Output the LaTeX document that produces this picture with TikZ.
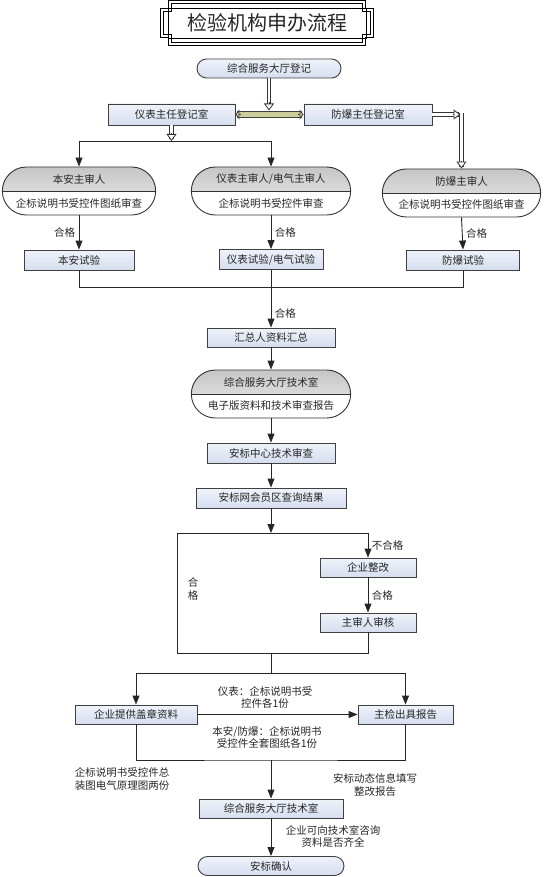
\documentclass[tikz,border=0pt]{standalone}
\usepackage{fontspec}
\setmainfont{Noto Sans CJK SC}
\usetikzlibrary{arrows.meta,shapes.misc,calc}

\definecolor{caixa}{RGB}{214,222,238}
\definecolor{caixaclara}{RGB}{238,242,250}
\definecolor{caqui}{RGB}{205,205,155}

\tikzset{
  caixa/.style={draw=black!75, line width=0.9pt, top color=caixaclara, bottom color=caixa, minimum height=20pt, inner sep=0pt},
  pilula/.style={caixa, rounded rectangle},
  dupla/.style={rounded rectangle, draw=black!80, line width=0.9pt, minimum height=48pt,
    path picture={
      \fill[top color=gray!45, bottom color=gray!12] (path picture bounding box.north west) rectangle (path picture bounding box.east);
      \draw[black!80, line width=0.8pt] (path picture bounding box.west) -- (path picture bounding box.east);
    }},
  linha/.style={draw=black!85, line width=0.9pt},
  seta/.style={linha, -{Triangle[length=9pt,width=7pt]}},
  oca/.style={draw=black!80, line width=0.8pt, double=white, double distance=2.6pt, shorten >=2pt},
  pontaoca/.style={draw=black!80, line width=0.8pt, -{Triangle[length=7pt,width=10pt,fill=white]}},
  barra/.style={draw=black!75, line width=0.8pt, double=caqui, double distance=4.5pt, shorten >=2pt, shorten <=2pt},
  pontabarra/.style={draw=black!75, line width=0.8pt, -{Triangle[length=4pt,width=10pt,fill=caqui]}},
}

% seta oca: haste dupla e ponta branca
\newcommand{\setaoca}[2]{%
  \draw[oca] (#1) -- (#2);
  \draw[pontaoca] ($(#2)!8pt!(#1)$) -- (#2);}

\begin{document}
\begin{tikzpicture}[x=1pt, y=-1pt, font=\fontsize{10.5}{12.5}\selectfont, text=black!85]

        \useasboundingbox (0,0) rectangle (549,877);

        % titulo
        \draw[line width=1pt, double, double distance=1.2pt] (170,2) -- (364,2) -- (364,10) -- (372,10) -- (372,36) -- (364,36) -- (364,44) -- (170,44) -- (170,36) -- (162,36) -- (162,10) -- (170,10) -- cycle;
        \draw[line width=0.7pt] (168,8) rectangle (366,38);
        \node[font=\fontsize{20}{24}\selectfont] (titulo) at (267,23) {检验机构申办流程};

        % registro
        \node[pilula, minimum width=144pt, minimum height=19pt] (reg) at (269,68.5) {综合服务大厅登记};
        \node[caixa, minimum width=127pt, minimum height=21pt] (yb) at (171.5,114.5) {仪表主任登记室};
        \node[caixa, minimum width=128pt, minimum height=21pt] (fb) at (368,114.5) {防爆主任登记室};

        % primeiros exames
        \node[dupla, minimum width=160pt] (bz) at (79,191) {};
        \node (bzt) at ([yshift=12pt]bz.center) {本安主审人};
        \node (bzb) at ([yshift=-12pt]bz.center) {企标说明书受控件图纸审查};
        \node[dupla, minimum width=166pt] (yz) at (271,191) {};
        \node (yzt) at ([yshift=12pt]yz.center) {仪表主审人/电气主审人};
        \node (yzb) at ([yshift=-12pt]yz.center) {企标说明书受控件审查};
        \node[dupla, minimum width=165pt] (fz) at (461.5,193) {};
        \node (fzt) at ([yshift=12pt]fz.center) {防爆主审人};
        \node (fzb) at ([yshift=-12pt]fz.center) {企标说明书受控件图纸审查};

        % ensaios
        \node[caixa, minimum width=110pt] (bs) at (79,260) {本安试验};
        \node[caixa, minimum width=104pt] (ys) at (271,259.5) {仪表试验/电气试验};
        \node[caixa, minimum width=113pt] (fs) at (463,260) {防爆试验};

        % coluna central
        \node[caixa, minimum width=128pt, minimum height=19pt] (hz) at (271,337.5) {汇总人资料汇总};
        \node[dupla, minimum width=166pt] (js) at (271,394) {};
        \node (jst) at ([yshift=12pt]js.center) {综合服务大厅技术室};
        \node (jsb) at ([yshift=-12pt]js.center) {电子版资料和技术审查报告};
        \node[caixa, minimum width=128pt] (zx) at (271,453) {安标中心技术审查};
        \node[caixa, minimum width=150pt] (cx) at (271,498) {安标网会员区查询结果};
        \node[caixa, minimum width=96pt, minimum height=19pt] (zg) at (368,567.5) {企业整改};
        \node[caixa, minimum width=96pt, minimum height=19pt] (sh) at (368,622.5) {主审人审核};
        \node[caixa, minimum width=122pt, minimum height=19pt] (gy) at (136,714.5) {企业提供盖章资料};
        \node[caixa, minimum width=95pt, minimum height=19pt] (zj) at (405.5,714.5) {主检出具报告};
        \node[caixa, minimum width=144pt, minimum height=19pt] (zh) at (271,808.5) {综合服务大厅技术室};
        \node[pilula, minimum width=146pt, minimum height=19pt] (qr) at (271,866) {安标确认};

        % pontos auxiliares
        \coordinate (bm) at ($(reg.south |- yb.east)+(0,-4)$);
        \coordinate (yd) at (yb.south |- 0,141);
        \coordinate (fk) at ($(fb.east -| fz.north)+(-1,0)$);
        \coordinate (fv) at ($(fk)+(1,-1)$);
        \coordinate (m1) at (ys.south |- 0,287.5);
        \coordinate (c1) at (cx.south |- 0,533);
        \coordinate (c2) at (177,533);
        \coordinate (c3) at (177,653);
        \coordinate (c4) at (cx.south |- c3);
        \coordinate (c5) at (cx.south |- 0,673);
        \coordinate (c6) at (cx.south |- 0,760);

        % setas ocas
        \draw[barra] (yb.east) -- (fb.west);
        \draw[pontabarra] ($(fb.west)!6pt!(yb.east)$) -- (fb.west);
        \draw[pontabarra] ($(yb.east)!6pt!(fb.west)$) -- (yb.east);
        \setaoca{reg.south}{bm}
        \setaoca{yb.south}{yd}
        \setaoca{fv}{fz.north}
        \setaoca{fb.east}{fk}

        % ligacoes
        \draw[linha] (bz.north |- yd) -- (yz.north |- yd);
        \draw[seta] (bz.north |- yd) -- (bz.north);
        \draw[seta] (yz.north |- yd) -- (yz.north);
        \draw[seta] (bz.south) -- (bs.north) node[midway, left] (l1) {合格};
        \draw[seta] (yz.south) -- (ys.north) node[midway, right] (l2) {合格};
        \draw[seta] (fz.south) -- (fs.north) node[midway, right] (l3) {合格};
        \draw[linha] (bs.south) |- (m1) -| (fs.south);
        \draw[linha] (ys.south) -- (m1);
        \draw[seta] (m1) -- (hz.north) node[pos=0.65, right] (l4) {合格};
        \draw[seta] (hz.south) -- (js.north);
        \draw[seta] (js.south) -- (zx.north);
        \draw[seta] (zx.south) -- (cx.north);

        % conferencia
        \draw[seta] (cx.south) -- (c1);
        \draw[linha] (c3) -- (c2) -- (zg.north |- c2);
        \draw[seta] (zg.north |- c2) -- (zg.north) node[midway, right] (l5) {不合格};
        \draw[seta] (zg.south) -- (sh.north) node[midway, right] (l6) {合格};
        \draw[linha] (sh.south) |- (c3);
        \node[align=center] (l7) at (193,589) {合\\格};

        % documentos
        \draw[linha] (c4) -- (c5);
        \draw[linha] (gy.north |- c5) -- (zj.north |- c5);
        \draw[seta] (gy.north |- c5) -- (gy.north);
        \draw[seta] (zj.north |- c5) -- (zj.north);
        \draw[seta] (gy.east) -- (zj.west);
        \node[align=center] (l8) at (265,697.5) {仪表：企标说明书受\\控件各1份};
        \node[align=center] (l9) at (267,737.5) {本安/防爆：企标说明书\\受控件全套图纸各1份};
        \draw[linha] (gy.south) |- (c6) -| (zj.south);
        \draw[seta] (c6) -- (zh.north);
        \node[align=center] (l10) at (122,779) {企标说明书受控件总\\装图电气原理图两份};
        \node[align=center] (l11) at (375,785) {安标动态信息填写\\整改报告};
        \draw[seta] (zh.south) -- (qr.north);
        \node[align=center] (l12) at (333,836.5) {企业可向技术室咨询\\资料是否齐全};

\end{tikzpicture}
\end{document}
